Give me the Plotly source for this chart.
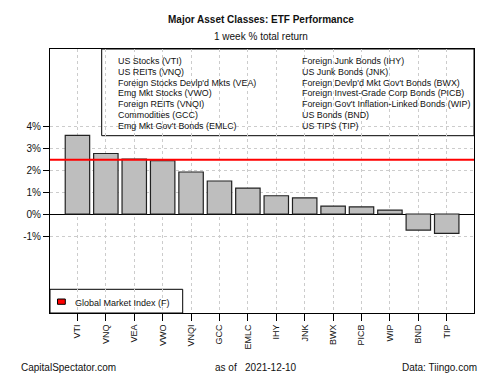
import plotly.graph_objects as go

tickers = ["VTI", "VNQ", "VEA", "VWO", "VNQI", "GCC", "EMLC", "IHY", "JNK", "BWX", "PICB", "WIP", "BND", "TIP"]
returns = [3.57, 2.75, 2.49, 2.42, 1.91, 1.50, 1.18, 0.83, 0.73, 0.36, 0.32, 0.18, -0.73, -0.88]
gmi_value = 2.47
gmi_label = "Global Market Index (F)"
legend_left = ["US Stocks (VTI)", "US REITs (VNQ)", "Foreign Stocks Devlp'd Mkts (VEA)",
               "Emg Mkt Stocks (VWO)", "Foreign REITs (VNQI)", "Commodities (GCC)",
               "Emg Mkt Gov't Bonds (EMLC)"]
legend_right = ["Foreign Junk Bonds (IHY)", "US Junk Bonds (JNK)", "Foreign Devlp'd Mkt Gov't Bonds (BWX)",
                "Foreign Invest-Grade Corp Bonds (PICB)", "Foreign Gov't Inflation-Linked Bonds (WIP)",
                "US Bonds (BND)", "US TIPS (TIP)"]
y_ticks = [-1, 0, 1, 2, 3, 4]
y_ticktext = ["-1%", "0%", "1%", "2%", "3%", "4%"]
title = "Major Asset Classes: ETF Performance"
subtitle = "1 week % total return"
footer_left = "CapitalSpectator.com"
footer_mid = "as of   2021-12-10"
footer_right = "Data: Tiingo.com"

W, H = 500, 375
L, R, T, B = 50, 26, 49, 62
PW, PH = W - L - R, H - T - B


def px(x):
    return (x - L) / PW


def py(y):
    return (H - B - y) / PH


FONT = "Liberation Sans, Arial, sans-serif"
fig = go.Figure()
fig.add_trace(go.Bar(
    x=list(range(len(tickers))), y=returns, width=0.86,
    marker=dict(color="#BEBEBE", line=dict(color="#222222", width=1.2)),
    showlegend=False, hoverinfo="x+y",
))

shapes = []
# red GMI line
shapes.append(dict(type="line", xref="paper", x0=0, x1=1, yref="y", y0=gmi_value, y1=gmi_value,
                   line=dict(color="#FF0000", width=2), layer="above"))
# top legend box
shapes.append(dict(type="rect", xref="paper", yref="paper", x0=px(101.7), x1=1, y0=py(135.7), y1=1,
                   fillcolor="white", line=dict(color="black", width=1), layer="between"))
# bottom legend box
shapes.append(dict(type="rect", xref="paper", yref="paper", x0=0, x1=px(182.7), y0=0, y1=py(289.3),
                   fillcolor="white", line=dict(color="black", width=1), layer="between"))
shapes.append(dict(type="rect", xref="paper", yref="paper", x0=px(57.5), x1=px(65.3), y0=py(304.3), y1=py(299),
                   fillcolor="#FF0000", line=dict(color="black", width=1), layer="above"))

annotations = []
for i, (a, b) in enumerate(zip(legend_left, legend_right)):
    yy = py(61 + i * 10.83)
    annotations.append(dict(text=a, xref="paper", yref="paper", x=px(115.5), y=yy, xanchor="left",
                            yanchor="middle", showarrow=False, font=dict(size=8.9, color="#111", family=FONT)))
    annotations.append(dict(text=b, xref="paper", yref="paper", x=px(299.8), y=yy, xanchor="left",
                            yanchor="middle", showarrow=False, font=dict(size=8.9, color="#111", family=FONT)))
annotations.append(dict(text=gmi_label, xref="paper", yref="paper", x=px(73), y=py(302.5), xanchor="left",
                        yanchor="middle", showarrow=False, font=dict(size=9, color="#111", family=FONT)))
annotations.append(dict(text="<b>" + title + "</b>", xref="paper", yref="paper", x=px(261), y=py(20),
                        xanchor="center", yanchor="middle", showarrow=False,
                        font=dict(size=10, color="#111", family=FONT)))
annotations.append(dict(text=subtitle, xref="paper", yref="paper", x=px(261), y=py(36.7),
                        xanchor="center", yanchor="middle", showarrow=False,
                        font=dict(size=10, color="#111", family=FONT)))
annotations.append(dict(text=footer_left, xref="paper", yref="paper", x=px(19), y=py(367.3),
                        xanchor="left", yanchor="middle", showarrow=False,
                        font=dict(size=10, color="#111", family=FONT)))
annotations.append(dict(text=footer_mid, xref="paper", yref="paper", x=px(213.3), y=py(367.3),
                        xanchor="left", yanchor="middle", showarrow=False,
                        font=dict(size=10, color="#111", family=FONT)))
annotations.append(dict(text=footer_right, xref="paper", yref="paper", x=px(479.4), y=py(367.3),
                        xanchor="right", yanchor="middle", showarrow=False,
                        font=dict(size=10, color="#111", family=FONT)))

fig.update_layout(
    width=W, height=H, margin=dict(l=L, r=R, t=T, b=B, pad=0),
    paper_bgcolor="white", plot_bgcolor="white",
    font=dict(family=FONT, size=9, color="#111"),
    shapes=shapes, annotations=annotations, showlegend=False,
    xaxis=dict(range=[-0.966, len(tickers) - 1 + 0.96], tickmode="array",
               tickvals=list(range(len(tickers))), ticktext=tickers, tickangle=-90,
               ticks="outside", ticklen=7, tickcolor="black", tickwidth=1,
               showgrid=True, gridcolor="#CCCCCC", griddash="dot", gridwidth=1,
               showline=True, linecolor="black", linewidth=1, mirror=True,
               zeroline=False, tickfont=dict(size=9, color="#111")),
    yaxis=dict(range=[-4.5, 7.5], tickmode="array", tickvals=y_ticks, ticktext=y_ticktext,
               ticks="outside", ticklen=6, tickcolor="black", tickwidth=1,
               showgrid=True, gridcolor="#CCCCCC", griddash="dot", gridwidth=1,
               showline=True, linecolor="black", linewidth=1, mirror=True,
               zeroline=True, zerolinecolor="black", zerolinewidth=1,
               tickfont=dict(size=10, color="#111")),
)
fig.write_html("out.html", config={"displayModeBar": False},
               post_script="document.body.style.margin='0px';document.body.style.padding='0px';")
